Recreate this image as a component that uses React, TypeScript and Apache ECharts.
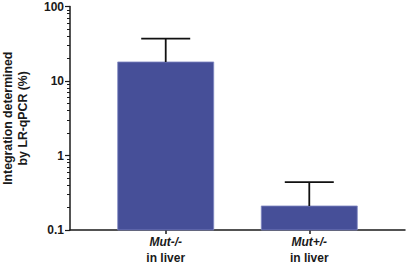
import React, { useEffect, useRef } from "react";
import * as echarts from "echarts";

const categories = ["Mut-/-", "Mut+/-"];
const subLabels = ["in liver", "in liver"];
const means = [18, 0.21];
const errorTops = [37, 0.44];
const yTickValues = [0.1, 1, 10, 100];
const minorTickValues = [
  0.2, 0.3, 0.4, 0.5, 0.6, 0.7, 0.8, 0.9,
  2, 3, 4, 5, 6, 7, 8, 9,
  20, 30, 40, 50, 60, 70, 80, 90,
];
const yMin = 0.1;
const yMax = 100;

const FONT = "Liberation Sans, Arial, sans-serif";

export default function App() {
  const ref = useRef<HTMLDivElement>(null);
  useEffect(() => {
    if (!ref.current) return;
    const chart = echarts.init(ref.current, null, { renderer: "svg" });
    const barData = means.map((v, i) => [i, v]);
    const errData = errorTops.map((e, i) => [i, means[i], e]);
    chart.setOption({
      animation: false,
      backgroundColor: "#ffffff",
      grid: {
        left: 70,
        right: 2,
        top: 6.5,
        bottom: 35,
        containLabel: false,
        outerBoundsMode: "none",
      },
      xAxis: {
        type: "value",
        min: -2 / 3,
        max: 5 / 3,
        splitLine: { show: false },
        axisLine: { show: true, onZero: false, lineStyle: { color: "#1a1a1a", width: 1.5 } },
        axisTick: {
          show: true,
          customValues: [0, 1],
          length: 4,
          lineStyle: { color: "#1a1a1a", width: 1.5 },
        },
        axisLabel: {
          customValues: [0, 1],
          margin: 4,
          formatter: (v: number) => {
            const i = Math.round(v);
            return `{i|${categories[i]}}\n{b|${subLabels[i]}}`;
          },
          rich: {
            i: {
              fontFamily: FONT,
              fontWeight: "bold",
              fontStyle: "italic",
              fontSize: 12,
              color: "#1a1a1a",
              lineHeight: 16,
            },
            b: {
              fontFamily: FONT,
              fontWeight: "bold",
              fontSize: 12,
              color: "#1a1a1a",
              lineHeight: 16,
            },
          },
        },
      },
      yAxis: [
        {
          type: "log",
          logBase: 10,
          min: yMin,
          max: yMax,
          name: "Integration determined\nby LR-qPCR (%)",
          nameLocation: "middle",
          nameGap: 40,
          nameTextStyle: {
            fontFamily: FONT,
            fontWeight: "bold",
            fontSize: 12.3,
            color: "#1a1a1a",
            lineHeight: 15,
          },
          splitLine: { show: false },
          axisLine: { show: true, onZero: false, lineStyle: { color: "#1a1a1a", width: 1.5 } },
          axisTick: {
            show: true,
            customValues: yTickValues,
            length: 5,
            lineStyle: { color: "#1a1a1a", width: 1.2 },
          },
          axisLabel: {
            customValues: yTickValues,
            margin: 6,
            fontFamily: FONT,
            fontWeight: "bold",
            fontSize: 12,
            color: "#1a1a1a",
            formatter: (v: number) => String(v),
          },
        },
        {
          type: "log",
          logBase: 10,
          min: yMin,
          max: yMax,
          position: "left",
          splitLine: { show: false },
          axisLine: { show: false, onZero: false },
          axisLabel: { show: false },
          axisTick: {
            show: true,
            customValues: minorTickValues,
            length: 3,
            lineStyle: { color: "#1a1a1a", width: 1 },
          },
        },
      ],
      series: [
        {
          type: "custom",
          yAxisIndex: 0,
          data: barData,
          renderItem: (params: any, api: any) => {
            const x = api.value(0);
            const top = api.coord([x, api.value(1)]);
            const base = api.coord([x, yMin]);
            const w = 96;
            return {
              type: "rect",
              shape: { x: top[0] - w / 2, y: top[1], width: w, height: base[1] - top[1] },
              style: { fill: "#464f98", stroke: "#7f87c2", lineWidth: 0.8 },
            };
          },
          z: 2,
        },
        {
          type: "custom",
          yAxisIndex: 0,
          data: errData,
          renderItem: (params: any, api: any) => {
            const x = api.value(0);
            const base = api.coord([x, api.value(1)]);
            const top = api.coord([x, api.value(2)]);
            const hw = 24.5;
            const style = { stroke: "#111111", lineWidth: 1.8 };
            return {
              type: "group",
              children: [
                { type: "line", shape: { x1: base[0], y1: base[1], x2: top[0], y2: top[1] }, style },
                { type: "line", shape: { x1: top[0] - hw, y1: top[1], x2: top[0] + hw, y2: top[1] }, style },
              ],
            };
          },
          z: 3,
        },
      ],
    });
    return () => chart.dispose();
  }, []);
  return (
    <div
      ref={ref}
      style={{ position: "fixed", left: 0, top: 0, width: 407, height: 265 }}
    />
  );
}
